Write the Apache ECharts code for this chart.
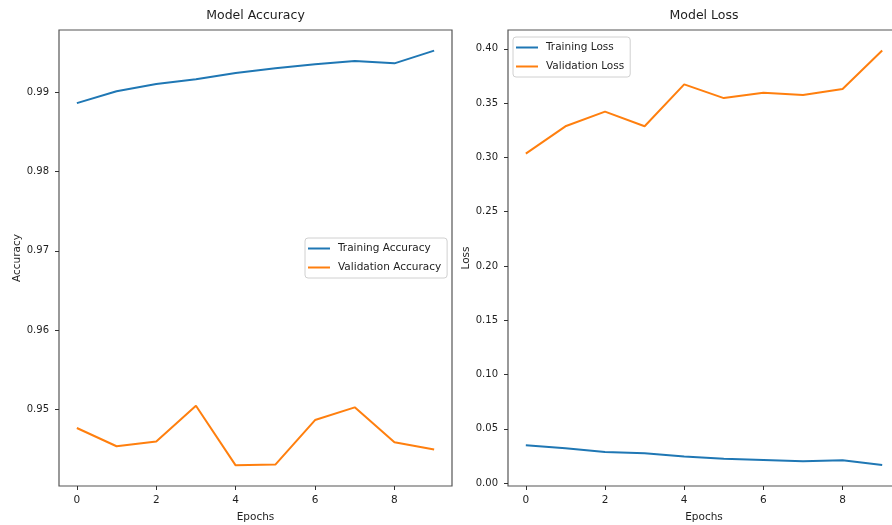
<!DOCTYPE html>
<html>
<head>
<meta charset="utf-8">
<script src="https://cdn.jsdelivr.net/npm/echarts@6/dist/echarts.min.js"></script>
<style>html,body{margin:0;padding:0;background:#fff}#c{width:892px;height:525px}</style>
</head>
<body>
<div id="c"></div>
<script>
const epochs = [0, 1, 2, 3, 4, 5, 6, 7, 8, 9];
const trainAcc = [0.9886, 0.9901, 0.9910, 0.9916, 0.9924, 0.9930, 0.9935, 0.9939, 0.9936, 0.9952];
const valAcc = [0.9477, 0.9454, 0.9460, 0.9505, 0.9430, 0.9431, 0.9487, 0.9503, 0.9459, 0.9450];
const trainLoss = [0.0350, 0.0322, 0.0288, 0.0276, 0.0245, 0.0224, 0.0214, 0.0202, 0.0211, 0.0168];
const valLoss = [0.3036, 0.3287, 0.3422, 0.3287, 0.3673, 0.3547, 0.3597, 0.3575, 0.3630, 0.3986];
const xTicks = [0, 2, 4, 6, 8];
const accTicks = [0.95, 0.96, 0.97, 0.98, 0.99];
const lossTicks = [0.00, 0.05, 0.10, 0.15, 0.20, 0.25, 0.30, 0.35, 0.40];

const FONT = 'DejaVu Sans';
const TXT = '#1e1e1e';
const BLUE = '#1f77b4', ORANGE = '#ff7f0e';
const pairs = a => epochs.map((e, i) => [e, a[i]]);

function xAxis(gi) {
  return {
    type: 'value', gridIndex: gi, min: -0.45, max: 9.45, position: 'bottom',
    name: 'Epochs', nameLocation: 'middle', nameGap: 26,
    nameTextStyle: { fontFamily: FONT, fontSize: 10.5, color: TXT },
    axisLine: { show: false, onZero: false },
    axisTick: { show: true, length: 4, inside: false, customValues: xTicks, lineStyle: { color: '#333' } },
    axisLabel: { customValues: xTicks, margin: 9, fontFamily: FONT, fontSize: 10.5, color: TXT },
    splitLine: { show: false }
  };
}
function yAxis(gi, min, max, ticks, name, gap) {
  return {
    type: 'value', gridIndex: gi, min: min, max: max, position: 'left',
    name: name, nameLocation: 'middle', nameRotate: 90, nameGap: gap,
    nameTextStyle: { fontFamily: FONT, fontSize: 10.5, color: TXT },
    axisLine: { show: false, onZero: false },
    axisTick: { show: true, length: 4, customValues: ticks, lineStyle: { color: '#333' } },
    axisLabel: { customValues: ticks, margin: 10, fontFamily: FONT, fontSize: 10, color: TXT,
      formatter: v => v.toFixed(2) },
    splitLine: { show: false }
  };
}
function legend(data, left, top) {
  return {
    data: data, orient: 'vertical', left: left, top: top,
    icon: 'rect', itemWidth: 22, itemHeight: 2, itemGap: 8,
    padding: [5, 6, 5, 3],
    backgroundColor: 'rgba(255,255,255,0.8)', borderColor: '#d0d0d0', borderWidth: 1, borderRadius: 3,
    textStyle: { fontFamily: FONT, fontSize: 10.5, color: TXT, padding: [0, 0, 0, 3] }
  };
}
function line(name, data, color, xi) {
  return {
    name: name, type: 'line', xAxisIndex: xi, yAxisIndex: xi, data: pairs(data),
    showSymbol: false, symbol: 'none', lineStyle: { color: color, width: 2 }, itemStyle: { color: color },
    animation: false
  };
}

const chart = echarts.init(document.getElementById('c'), null, { renderer: 'canvas' });
chart.setOption({
  animation: false,
  backgroundColor: '#fff',
  title: [
    { text: 'Model Accuracy', left: 255.5, top: 9, textAlign: 'center', padding: 0,
      textStyle: { fontFamily: FONT, fontSize: 12.5, fontWeight: 'normal', color: TXT } },
    { text: 'Model Loss', left: 704, top: 9, textAlign: 'center', padding: 0,
      textStyle: { fontFamily: FONT, fontSize: 12.5, fontWeight: 'normal', color: TXT } }
  ],
  grid: [
    { left: 59, top: 30, width: 393, height: 456, outerBoundsMode: 'none', containLabel: false,
      show: true, borderColor: '#555', borderWidth: 1.2, backgroundColor: 'transparent' },
    { left: 508, top: 30, width: 392, height: 456, outerBoundsMode: 'none', containLabel: false,
      show: true, borderColor: '#555', borderWidth: 1.2, backgroundColor: 'transparent' }
  ],
  xAxis: [xAxis(0), xAxis(1)],
  yAxis: [
    yAxis(0, 0.9404, 0.9978, accTicks, 'Accuracy', 35),
    yAxis(1, -0.0026, 0.4174, lossTicks, 'Loss', 33)
  ],
  legend: [
    legend(['Training Accuracy', 'Validation Accuracy'], 305, 238),
    legend(['Training Loss', 'Validation Loss'], 513, 37)
  ],
  series: [
    line('Training Accuracy', trainAcc, BLUE, 0),
    line('Validation Accuracy', valAcc, ORANGE, 0),
    line('Training Loss', trainLoss, BLUE, 1),
    line('Validation Loss', valLoss, ORANGE, 1)
  ]
});
</script>
</body>
</html>
